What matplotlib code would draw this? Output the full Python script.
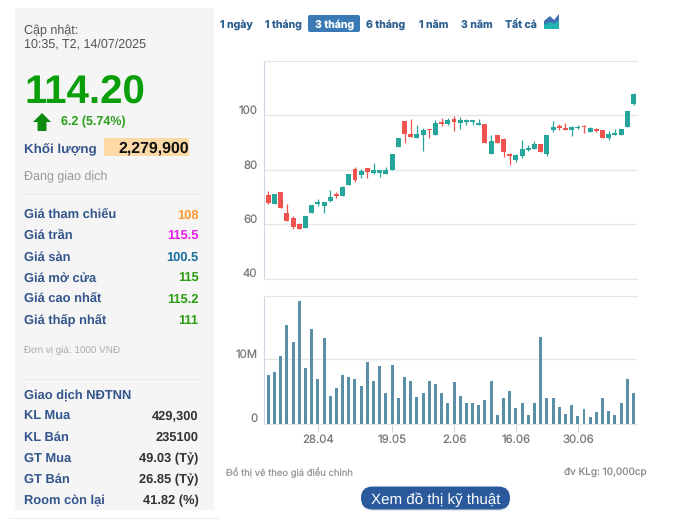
import matplotlib
matplotlib.use("Agg")
import matplotlib.pyplot as plt
from matplotlib.patches import Rectangle, FancyBboxPatch, Polygon
from matplotlib.transforms import ScaledTranslation

plt.rcParams["text.hinting"] = "no_hinting"

W, H = 675, 524

opens = [70.7,67.4,71.8,64.1,62.3,60.1,58.6,64.1,67.4,66.7,68.5,71.0,70.4,74.4,80.3,78.1,80.7,78.8,78.8,78.5,
         79.9,88.4,97.9,93.1,91.7,92.8,94.9,92.8,97.3,96.8,98.7,97.2,97.6,97.6,96.6,96.8,85.8,92.8,91.3,85.8,
         83.6,85.1,87.3,87.6,89.5,85.8,94.6,96.1,95.0,94.7,95.3,96.0,93.9,94.7,94.6,91.7,92.8,92.8,95.7,104.2]
highs = [72.2,71.1,71.8,67.4,63.0,60.5,63.0,67.1,69.3,68.2,72.6,71.8,74.1,78.5,81.0,80.3,80.7,82.5,79.9,81.0,
         85.8,91.7,97.9,98.7,96.5,95.3,95.0,98.3,99.0,99.0,99.8,99.4,98.7,98.3,98.7,96.8,92.8,92.8,91.7,86.0,
         85.8,90.9,89.1,90.6,89.5,92.8,97.9,96.8,97.2,96.1,96.5,96.5,95.7,95.3,94.6,94.2,95.0,95.0,101.6,108.2]
lows = [67.4,67.4,66.0,61.2,58.3,58.3,58.6,64.1,66.7,64.1,68.1,69.6,70.4,74.4,75.5,77.0,77.0,78.5,77.4,78.5,
        79.9,88.4,89.8,92.0,91.7,86.9,91.7,92.8,96.1,96.5,94.2,95.0,96.5,96.5,96.5,89.8,85.8,89.8,84.7,81.8,
        82.9,84.3,86.9,87.6,86.5,85.1,93.9,94.6,94.6,92.4,95.0,93.5,93.9,93.9,91.7,90.9,92.8,92.8,95.7,103.8]
closes = [67.8,71.1,66.0,61.2,59.0,58.3,63.0,67.1,68.2,68.2,70.0,70.5,73.7,78.5,76.3,79.6,79.2,79.9,79.9,79.9,
          85.8,91.7,93.1,92.0,93.1,94.6,94.5,97.2,96.9,98.3,97.6,98.3,98.3,97.9,97.2,89.8,90.6,89.8,86.5,85.2,
          85.4,87.6,88.0,89.5,86.5,92.8,95.7,95.3,94.7,95.7,95.8,95.6,95.3,94.4,91.7,93.1,93.5,95.0,101.6,107.8]
volumes = [7.5,8.0,10.5,15.4,12.75,19.1,8.6,14.8,7.0,13.4,4.3,5.6,7.5,7.2,7.0,5.8,9.6,6.6,8.9,4.7,
           9.1,3.9,7.2,6.6,4.2,4.8,6.7,6.1,4.7,3.2,6.4,4.3,3.2,3.2,2.9,3.7,6.7,1.3,4.0,5.0,
           2.4,3.2,1.3,3.2,13.5,3.9,3.9,2.6,1.5,2.9,1.2,2.3,1.0,1.8,3.9,2.0,1.3,3.2,7.0,4.7]
price_ticks = [40, 60, 80, 100]
vol_ticks = [0, 10]
vol_tick_labels = ["0", "10M"]
date_pos = [8, 20, 30, 40, 50]
date_labels = ["28.04", "19.05", "2.06", "16.06", "30.06"]
ranges = ["1 ngày", "1 tháng", "3 tháng", "6 tháng", "1 năm", "3 năm", "Tất cả"]
stat_names = ["Giá tham chiếu", "Giá trần", "Giá sàn", "Giá mở cửa", "Giá cao nhất", "Giá thấp nhất"]
stat_vals = ["108", "115.5", "100.5", "115", "115.2", "111"]
nn_names = ["KL Mua", "KL Bán", "GT Mua", "GT Bán", "Room còn lại"]
nn_vals = ["429,300", "235100", "49.03 (Tỷ)", "26.85 (Tỷ)", "41.82 (%)"]

UP, DOWN = "#26a69a", "#ef5350"
GRID = "#e6e6e6"
AXC = "#ccd6e3"
SANS = "Liberation Sans"
UI = "Inter"

fig = plt.figure(figsize=(W / 100, H / 100), dpi=100)
bg = fig.add_axes([0, 0, 1, 1])
bg.set_xlim(0, W); bg.set_ylim(H, 0); bg.axis("off")

def axes_px(x0, y0, x1, y1):
    return fig.add_axes([x0 / W, 1 - y1 / H, (x1 - x0) / W, (y1 - y0) / H])

def t(x, y, s, size, color, weight="normal", ha="left", family=SANS, **kw):
    return bg.text(x, y, s, fontsize=size, color=color, fontweight=weight, ha=ha,
                   va="center_baseline", family=family, **kw)

# left panel
bg.add_patch(Rectangle((15, 8), 199, 502, fc="#f5f5f5", ec="none"))
t(24, 30, "Cập nhật:", 9, "#555555")
t(24, 44, "10:35, T2, 14/07/2025", 9, "#555555")
t(24, 89.5, "114.20", 29, "#0a9e0a", "bold")
bg.add_patch(Polygon([(42, 113), (51, 122), (46.5, 122), (46.5, 131), (37.5, 131), (37.5, 122), (33, 122)], fc="#0f8a0f", ec="none"))
t(61, 121, "6.2 (5.74%)", 9, "#2e9e1e", "bold")
t(24, 148, "Khối lượng", 9.6, "#34558b", "bold")
bg.add_patch(Rectangle((104, 138), 85, 18, fc="#fdd9a6", ec="none"))
t(189, 147, "2,279,900", 11.4, "#111111", "bold", ha="right")
t(24, 176, "Đang giao dịch", 9, "#999999")
for y in (194, 379):
    bg.plot([24, 199], [y, y], color="#e9e9e9", lw=0.8)
stat_cols = ["#ff9a2e", "#e81ee8", "#1a6f9e", "#2a9e12", "#2a9e12", "#2a9e12"]
for i, (n, v, c) in enumerate(zip(stat_names, stat_vals, stat_cols)):
    y = 214.5 + i * 20.9
    t(24, y, n, 9.3, "#34558b", "bold")
    t(198.5, y, v, 9.3, c, "bold", ha="right")
t(24, 349, "Đơn vị giá: 1000 VNĐ", 7.1, "#aaaaaa")
t(24, 394, "Giao dịch NĐTNN", 9.3, "#34558b", "bold")
for i, (n, v) in enumerate(zip(nn_names, nn_vals)):
    y = 415.5 + i * 20.9
    t(24, y, n, 9.3, "#34558b", "bold")
    t(198.5, y, v, 9.3, "#333333", "bold", ha="right")
bg.plot([10, 220], [518, 518], color="#efefef", lw=0.8)

# range buttons
bg.add_patch(FancyBboxPatch((308, 15), 52, 17, boxstyle="round,pad=0,rounding_size=2", fc="#3a7ab5", ec="none"))
for x, s in zip([220, 265, 315, 366, 419, 461, 505], ranges):
    t(x, 23.5, s, 7.6, "white" if s == "3 tháng" else "#2c5f8f", "bold", family=UI)
bg.add_patch(Polygon([(544, 29), (544, 21), (550, 16), (554, 20), (559, 14), (559, 29)], fc="#3f6fb0", ec="none"))
bg.add_patch(Polygon([(544, 29), (544, 25), (550, 22), (554, 24), (559, 20), (559, 29)], fc="#1fb6b0", ec="none"))

# label shift: tick labels sit above their grid lines in the reference
up = ScaledTranslation(0, 5.5 / 100, fig.dpi_scale_trans)

# candles
ax = axes_px(264.3, 60.5, 637, 278.5)
ax.set_xlim(-0.65, 59.56); ax.set_ylim(40, 120.2)
for i, (o, h, l, c) in enumerate(zip(opens, highs, lows, closes)):
    col = UP if c >= o else DOWN
    ax.plot([i, i], [l, h], color=col, lw=0.9, solid_capstyle="butt", zorder=3)
    ax.bar(i, max(abs(c - o), 0.6), bottom=min(o, c), width=0.8, color=col, zorder=4, linewidth=0)
ax.set_yticks(price_ticks); ax.set_xticks([])
ax.grid(axis="y", color=GRID, lw=1); ax.set_axisbelow(True)
ax.tick_params(axis="y", length=0, labelsize=8.2, labelcolor="#777777", pad=5)
ax.spines["right"].set_visible(False)
for s in ("top", "bottom"):
    ax.spines[s].set_color(GRID)
ax.spines["left"].set_color(AXC)
for lb in ax.get_yticklabels():
    lb.set_family(UI)
    lb.set_transform(lb.get_transform() + up)

# volume
vx = axes_px(264.3, 295.5, 637, 423.5)
vx.set_xlim(-0.65, 59.56); vx.set_ylim(0, 19.95)
vx.bar(range(len(volumes)), volumes, width=0.48, color="#5b8fa8", linewidth=0, zorder=3)
vx.set_yticks(vol_ticks, vol_tick_labels)
vx.set_xticks(date_pos, date_labels)
vx.grid(axis="y", color=GRID, lw=1); vx.set_axisbelow(True)
vx.tick_params(axis="y", length=0, labelsize=8.2, labelcolor="#777777", pad=5)
vx.tick_params(axis="x", length=6, color=AXC, labelsize=8.2, labelcolor="#777777", pad=2)
vx.spines["right"].set_visible(False)
for s in ("top", "bottom"):
    vx.spines[s].set_color(GRID)
vx.spines["left"].set_color(AXC)
for lb in vx.get_xticklabels():
    lb.set_family(UI)
for lb in vx.get_yticklabels():
    lb.set_family(UI)
    lb.set_transform(lb.get_transform() + up)

# footer
t(226, 471, "Đồ thị vẽ theo giá điều chỉnh", 6.8, "#999999", family=UI)
t(647, 471, "đv KLg: 10,000cp", 7.2, "#888888", ha="right", family=UI)
bg.add_patch(FancyBboxPatch((361, 488), 149, 23, boxstyle="round,pad=0,rounding_size=11.5", fc="#e6e9ee", ec="none"))
bg.add_patch(FancyBboxPatch((361, 486.5), 149, 23, boxstyle="round,pad=0,rounding_size=11.5", fc="#2a5a9c", ec="none"))
t(435.5, 498.5, "Xem đồ thị kỹ thuật", 10.9, "white", ha="center")

fig.savefig("out.png", dpi=100)
